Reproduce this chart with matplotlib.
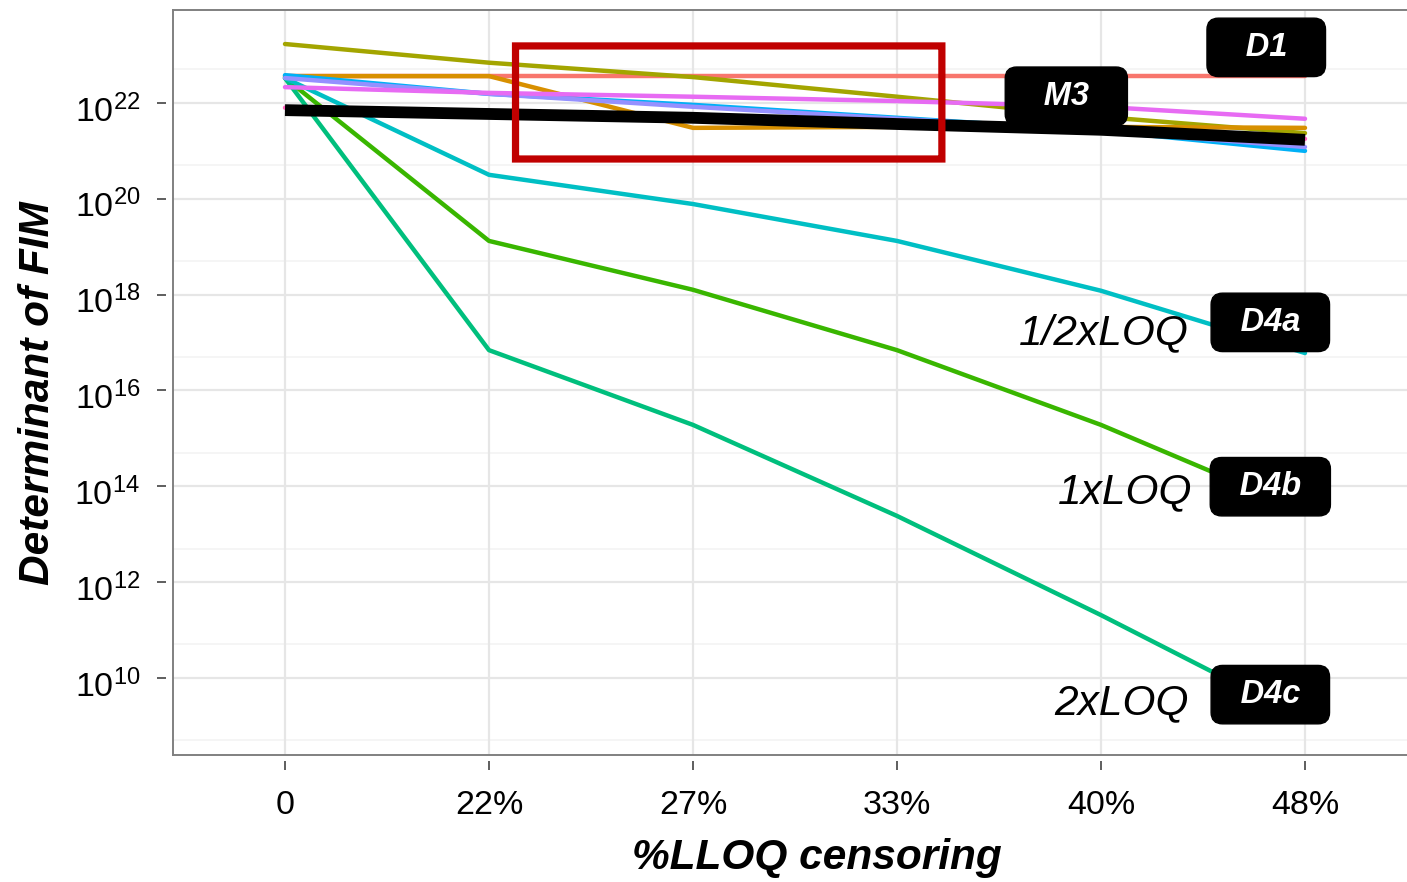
import numpy as np
import matplotlib
matplotlib.use("Agg")
import matplotlib.pyplot as plt
import matplotlib.transforms as mtransforms
from matplotlib.lines import Line2D
from matplotlib.patches import FancyBboxPatch

plt.rcParams['font.family'] = ['Liberation Sans', 'DejaVu Sans']
plt.rcParams['mathtext.fontset'] = 'custom'
plt.rcParams['mathtext.rm'] = 'Liberation Sans'

# x categories
censoring = ["0", "22%", "27%", "33%", "40%", "48%"]

# log10(det FIM), one list per design
d1_salmon = [22.56, 22.56, 22.56, 22.56, 22.56, 22.56]
d_orange = [22.56, 22.56, 21.48, 21.50, 21.50, 21.48]
d_olive = [23.23, 22.84, 22.54, 22.13, 21.71, 21.37]
d4b_green = [22.52, 19.12, 18.10, 16.84, 15.28, 13.48]
d4c_teal = [22.52, 16.84, 15.28, 13.38, 11.31, 9.14]
d4a_cyan = [22.52, 20.50, 19.89, 19.12, 18.08, 16.78]
d_blue = [22.58, 22.19, 21.96, 21.69, 21.42, 21.00]
d_purple = [22.52, 22.19, 21.92, 21.67, 21.42, 21.08]
d_magenta = [22.33, 22.21, 22.13, 22.04, 21.92, 21.67]
d_pink = [21.90, 21.79, 21.70, 21.57, 21.45, 21.25]
m3_black = [21.85, 21.77, 21.69, 21.56, 21.44, 21.23]

series = [
    (d1_salmon, "#F8766D"),
    (d_olive, "#A3A500"),
    (d_orange, "#D89000"),
    (d4b_green, "#39B600"),
    (d4c_teal, "#00BF7D"),
    (d4a_cyan, "#00BFC4"),
    (d_blue, "#00B0F6"),
    (d_purple, "#9590FF"),
    (d_magenta, "#E76BF3"),
    (d_pink, "#FF62BC"),
]

y_tick_exp = [10, 12, 14, 16, 18, 20, 22]

fig = plt.figure(figsize=(14.07, 8.82), dpi=100)
ax = fig.add_axes([173 / 1407, 1 - 755 / 882, (1407 - 173) / 1407, 745 / 882])

x = np.arange(len(censoring))
ax.set_yscale('log')
ax.set_xlim(-0.549, 5.5)
ax.set_ylim(10 ** 8.39, 10 ** 23.94)

# grid
for e in range(8, 24, 2):
    ax.axhline(5 * 10.0 ** e, color="#F4F4F4", lw=1.3, zorder=0)
for e in y_tick_exp:
    ax.axhline(10.0 ** e, color="#E6E6E6", lw=1.6, zorder=0)
for xi in x:
    ax.axvline(xi, color="#E6E6E6", lw=1.6, zorder=0)

for vals, col in series:
    ax.plot(x, 10 ** np.array(vals), color=col, lw=3.2,
            solid_capstyle='round', solid_joinstyle='round', zorder=2)
ax.plot(x, 10 ** np.array(m3_black), color="black", lw=8.5,
        solid_capstyle='butt', zorder=3)

# highlight rectangle
rect = FancyBboxPatch((1.13, 10 ** 20.83), 3.22 - 1.13, 10 ** 23.19 - 10 ** 20.83,
                      boxstyle="round,pad=0,rounding_size=0.02",
                      fill=False, edgecolor="#C00000", lw=5.2, zorder=4)
ax.add_patch(rect)

# design labels
for name, lx, ly in [("D1", 4.81, 23.16), ("M3", 3.83, 22.14),
                     ("D4a", 4.83, 17.42), ("D4b", 4.83, 13.99), ("D4c", 4.83, 9.65)]:
    pad = "  \u2009" if len(name) == 2 else " \u2009"
    ax.text(lx, 10 ** ly, pad + name + pad, ha='center', va='center', color='white',
            fontsize=23.5, fontweight='bold', fontstyle='italic', zorder=6,
            bbox=dict(boxstyle='round,pad=0.42,rounding_size=0.35', fc='black', ec='black'))

for txt, lx, ly in [("1/2xLOQ", 4.43, 17.2), ("1xLOQ", 4.45, 13.88), ("2xLOQ", 4.43, 9.47)]:
    ax.text(lx, 10 ** ly, txt, ha='right', va='center', fontsize=30.5,
            fontstyle='italic', color='black', zorder=6)

# axes frame and ticks with a gap
for s in ax.spines.values():
    s.set_visible(False)
ax.spines['left'].set_position(('outward', 5))
ax.spines['bottom'].set_position(('outward', 4))
frame = dict(color="#808080", lw=1.4, transform=ax.transAxes, clip_on=False, zorder=5)
ax.add_line(Line2D([0, 0], [0, 1], **frame))
ax.add_line(Line2D([0, 1], [0, 0], **frame))
ax.add_line(Line2D([0, 1], [1, 1], **frame))

ax.set_xticks(x)
ax.set_xticklabels(censoring)
ax.set_yticks([10.0 ** e for e in y_tick_exp])
ax.set_yticklabels([r"$\mathregular{10^{%d}}$" % e for e in y_tick_exp])
ax.yaxis.set_minor_locator(matplotlib.ticker.NullLocator())
ax.tick_params(axis='both', direction='out', length=6.5, width=1.1, color="#333333")
ax.tick_params(axis='y', labelsize=24.5, pad=12)
ax.tick_params(axis='x', labelsize=24.5, pad=15)

shift = mtransforms.ScaledTranslation(0, -5 / 100, fig.dpi_scale_trans)
for lab in ax.get_yticklabels():
    lab.set_transform(lab.get_transform() + shift)

fig.text(38 / 1407, 1 - 393 / 882, "Determinant of FIM", rotation=90, ha='center',
         va='center', fontsize=30.5, fontweight='bold', fontstyle='italic')
fig.text(817 / 1407, 1 - 858 / 882, "%LLOQ censoring", ha='center', va='center',
         fontsize=30.5, fontweight='bold', fontstyle='italic')

fig.savefig("out.png", dpi=100)
